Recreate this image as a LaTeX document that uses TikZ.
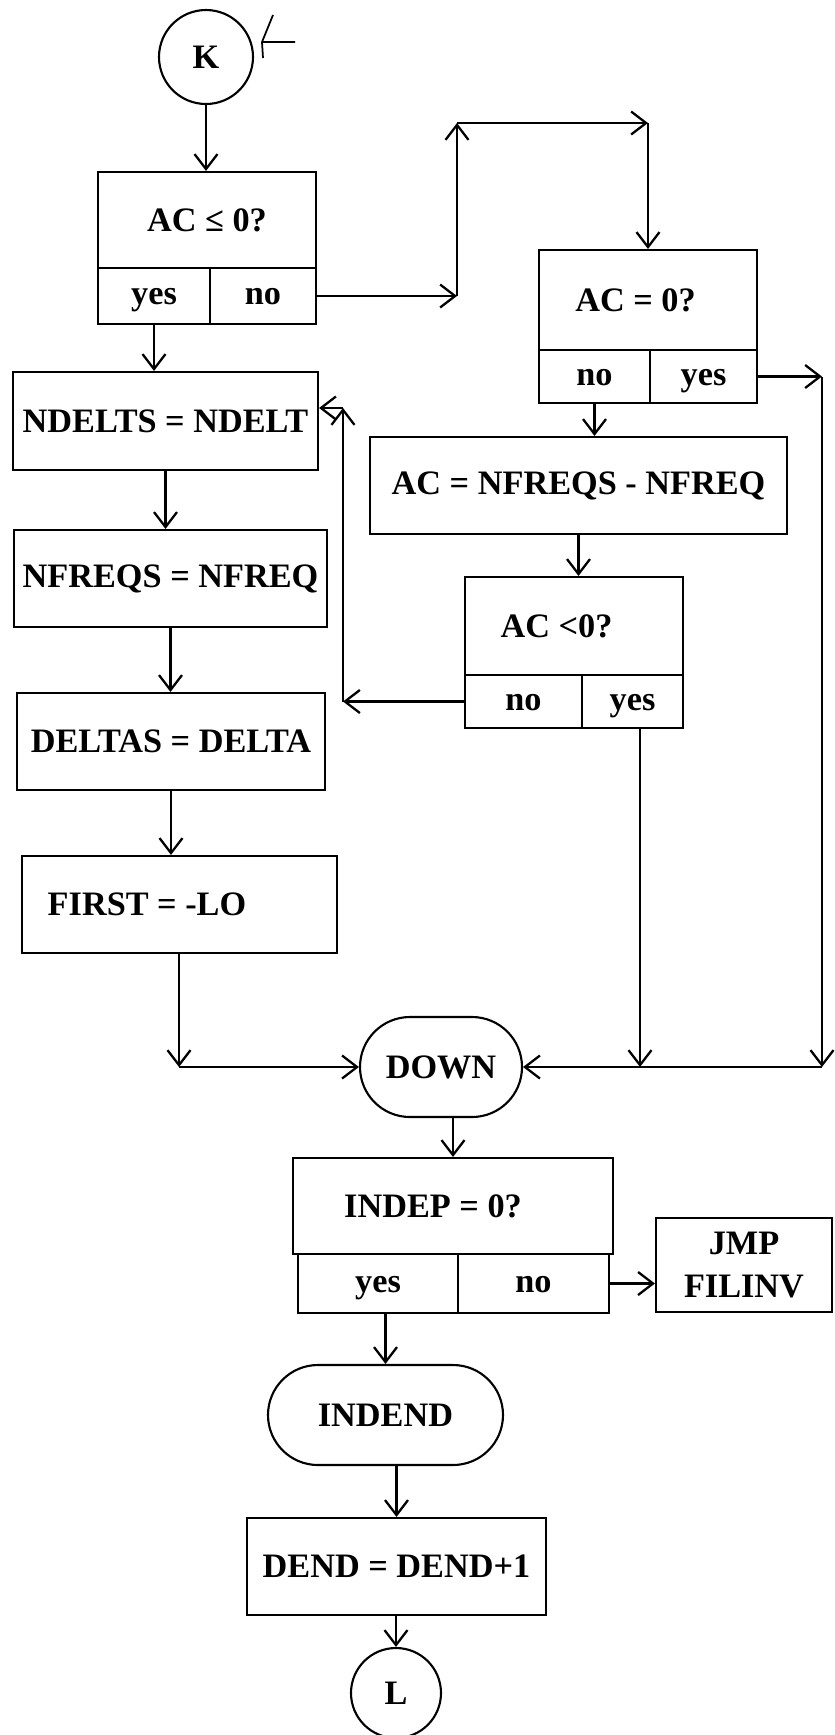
\documentclass[tikz,border=0pt]{standalone}
\usepackage{fontspec}
\setmainfont{Liberation Serif}
\usetikzlibrary{arrows.meta,shapes.misc}

\begin{document}
\begin{tikzpicture}[
    x=0.2mm,y=-0.2mm,
    >={Straight Barb[length=3mm,width=4.6mm]},
    every node/.style={font=\fontsize{19.5}{24}\selectfont\bfseries},
    conn/.style={draw,line width=1.2pt,circle,minimum size=18.8mm,inner sep=0pt},
    proc/.style={draw,line width=1.2pt,rectangle,minimum height=19.4mm,inner sep=0pt},
    test/.style={draw,line width=1.2pt,rectangle,minimum height=19.4mm,inner sep=0pt},
    cell/.style={draw,line width=1.2pt,rectangle,minimum height=11mm,inner sep=0pt,
      text height=1em,text depth=0pt},
    pill/.style={draw,line width=1.2pt,rounded rectangle,minimum height=20mm,inner sep=0pt},
    flow/.style={draw,line width=1.3pt,->}
  ]
  \useasboundingbox (0,0) rectangle (835,1735);
  % entry connector and pen mark
  \node[conn] (K) at (206,57) {K};
  \draw[line width=1pt] (295,42) -- (262,42) (273,15) -- (262,42) -- (263,58);
  % first test
  \node[test,minimum width=43.6mm,minimum height=19.2mm] (q1) at (207,220) {AC ≤ 0?};
  \node[cell,minimum width=22.4mm,minimum height=11.2mm] (q1y) at (154,296) {yes};
  \node[cell,minimum width=21.2mm,minimum height=11.2mm] (q1n) at (263,296) {no};
  % left column, saved values
  \node[proc,minimum width=61mm,minimum height=19.6mm] (nd) at (165.5,421) {NDELTS = NDELT};
  \node[proc,minimum width=62.6mm] (nf) at (170.5,578.5) {NFREQS = NFREQ};
  \node[proc,minimum width=61.6mm] (dl) at (171,741.5) {DELTAS = DELTA};
  \node[proc,minimum width=63mm] (fs) at (179.5,904.5) {FIRST = -LO\hspace*{13mm}};
  % right branch
  \node[test,minimum width=43.6mm,minimum height=20mm] (q2) at (648,300) {AC = 0?\hspace*{5mm}};
  \node[cell,minimum width=22.2mm,minimum height=10.6mm] (q2n) at (594.5,376.5) {no};
  \node[cell,minimum width=21.4mm,minimum height=10.6mm] (q2y) at (703.5,376.5) {yes};
  \node[proc,minimum width=83.4mm] (ac) at (578.5,485.5) {AC = NFREQS - NFREQ};
  \node[test,minimum width=43.6mm,minimum height=19.6mm] (q3) at (574,626) {AC <0?\hspace*{7mm}};
  \node[cell,minimum width=23.4mm,minimum height=10.6mm] (q3n) at (523.5,701.5) {no};
  \node[cell,minimum width=20.2mm,minimum height=10.6mm] (q3y) at (632.5,701.5) {yes};
  % merge point and tail
  \node[pill,minimum width=32.4mm] (dn) at (441,1067) {DOWN};
  \node[test,minimum width=64mm,minimum height=19.2mm] (q4) at (453,1206) {INDEP = 0?\hspace*{8mm}};
  \node[cell,minimum width=32mm,minimum height=11.8mm] (q4y) at (378,1283.5) {yes};
  \node[cell,minimum width=30.2mm,minimum height=11.8mm] (q4n) at (533.5,1283.5) {no};
  \node[proc,minimum width=35.2mm,minimum height=18.8mm,align=center] (jmp) at (744,1265) {JMP\\FILINV};
  \node[pill,minimum width=47mm] (ie) at (385.5,1415) {INDEND};
  \node[proc,minimum width=59.8mm] (de) at (396.5,1566.5) {DEND = DEND+1};
  \node[conn,minimum size=18mm] (L) at (396,1693) {L};
  % bends of the connectors
  \coordinate (t1) at (457,296);
  \coordinate (t2) at (457,123);
  \coordinate (t3) at (648,123);
  \coordinate (r1) at (822,376.5);
  \coordinate (r2) at (822,1067);
  \coordinate (d1) at (179,1067);
  \coordinate (d2) at (640,1067);
  \coordinate (fb1) at (343,701.5);
  \coordinate (fb2) at (343,408);
  % main line down the left
  \draw[flow] (K.south) -- (K.south |- q1.north);
  \draw[flow] (q1y.south) -- (q1y.south |- nd.north);
  \draw[flow] (nd.south) -- (nd.south |- nf.north);
  \draw[flow] (nf.south) -- (nf.south |- dl.north);
  \draw[flow] (dl.south) -- (dl.south |- fs.north);
  \draw[flow] (d1 |- fs.south) -- (d1);
  \draw[flow] (d1) -- (dn.west);
  % no from the first test, over to AC = 0
  \draw[flow] (q1n.east) -- (t1);
  \draw[flow] (t1) -- (t2);
  \draw[flow] (t2) -- (t3);
  \draw[flow] (t3) -- (q2.north);
  \draw[flow] (q2n.south) -- (q2n.south |- ac.north);
  \draw[flow] (ac.south) -- (ac.south |- q3.north);
  % loop back into NDELTS
  \draw[flow] (q3n.west) -- (fb1);
  \draw[flow] (fb1) -- (fb2);
  \draw[flow] (fb2) -- (fb2 -| nd.east);
  % yes branches into DOWN
  \draw[flow] (d2 |- q3y.south) -- (d2);
  \draw[flow] (q2y.east) -- (r1);
  \draw[flow] (r1) -- (r2);
  \draw[flow] (r2) -- (dn.east);
  % tail
  \draw[flow] (q4.north |- dn.south) -- (q4.north);
  \draw[flow] (q4n.east) -- (q4n.east -| jmp.west);
  \draw[flow] (ie.north |- q4y.south) -- (ie.north);
  \draw[flow] (de.north |- ie.south) -- (de.north);
  \draw[flow] (L.north |- de.south) -- (L.north);
\end{tikzpicture}
\end{document}
